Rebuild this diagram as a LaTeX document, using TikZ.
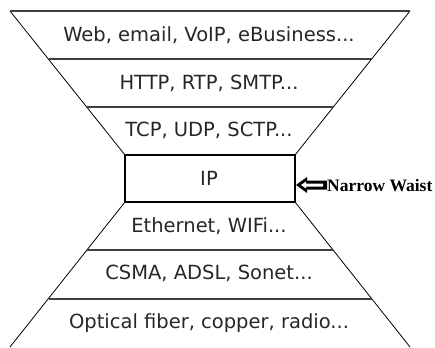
\documentclass[tikz,border=0pt]{standalone}
\usepackage{fontspec}
\setmainfont{DejaVu Sans}
\newfontfamily\waistfont{Liberation Serif}

\tikzset{
	layertext/.style={font=\fontsize{19.5}{22}\selectfont,text=black!85},
	sepline/.style={draw=black!75,line width=1.3pt},
	sideline/.style={draw=black,line width=0.8pt}
}

\begin{document}
\begin{tikzpicture}[x=1pt,y=-1pt]
	
	\useasboundingbox (0,0) rectangle (435,347);
	
	% outline of the hourglass
	\draw[sideline] (10,11) -- (125,155);
	\draw[sideline] (410,11) -- (295,155);
	\draw[sideline] (125,202) -- (10,347);
	\draw[sideline] (295,202) -- (410,347);
	
	% layer separators
	\draw[sepline] (10,11) -- (410,11);
	\draw[sepline] (48.5,59) -- (371.5,59);
	\draw[sepline] (87,107) -- (333,107);
	\draw[sepline] (87,250) -- (333,250);
	\draw[sepline] (48.5,299) -- (371.5,299);
	
	% the waist
	\draw[black,line width=1.8pt] (125,155) rectangle (295,202);
	
	\node[layertext] (app) at(209,35) {Web, email, VoIP, eBusiness...};
	\node[layertext] (proto) at(209,83) {HTTP, RTP, SMTP...};
	\node[layertext] (trans) at(209,130) {TCP, UDP, SCTP...};
	\node[layertext] (ip) at(209,178) {IP};
	\node[layertext] (link) at(209,226) {Ethernet, WIFi...};
	\node[layertext] (mac) at(209,273) {CSMA, ADSL, Sonet...};
	\node[layertext] (phy) at(209,323) {Optical fiber, copper, radio...};
	
	% block arrow pointing at the waist
	\fill[black] (296,185) -- (307,177) -- (307,180.5) -- (327,180.5) -- (327,189.5)
		-- (307,189.5) -- (307,193) -- cycle;
	\fill[white] (301,185) -- (306,181.5) -- (306,183.5) -- (323,183.5) -- (323,186.5)
		-- (306,186.5) -- (306,188.5) -- cycle;
	\node[right,inner sep=0pt,font=\waistfont\bfseries\fontsize{17.5}{20}\selectfont]
		(waist) at(327,186) {Narrow Waist};
	
\end{tikzpicture}
\end{document}
